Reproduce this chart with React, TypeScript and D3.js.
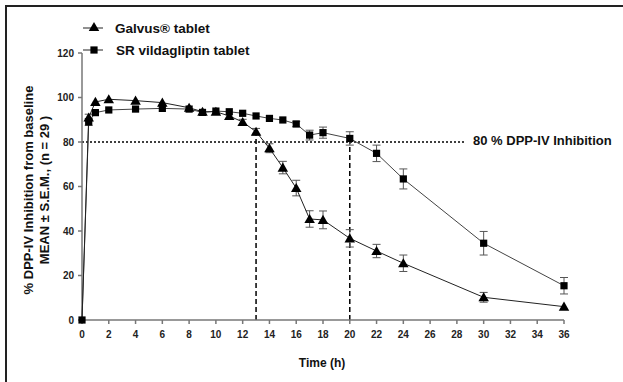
import React from 'react';
import { scaleLinear, line, symbol, symbolTriangle, symbolSquare } from 'd3';

const times = [0, 0.5, 1, 2, 4, 6, 8, 9, 10, 11, 12, 13, 14, 15, 16, 17, 18, 20, 22, 24, 30, 36];
const galvus = [0, 91, 98, 99.2, 98.6, 97.7, 95.4, 93.6, 93.6, 91.7, 89, 84.6, 77.2, 68.5, 59.3, 45.4, 45, 36.7, 31, 25.5, 10.2, 6];
const galvusSem = [0, 1.5, 1, 0.8, 0.8, 0.8, 0.8, 0.8, 0.8, 1, 1.2, 1.5, 2, 2.8, 3.5, 3.7, 4, 3.9, 3, 3.7, 2.2, 1];
const sr = [0, 89, 93.2, 94.4, 94.8, 95.1, 94.8, 93.3, 93.9, 93.6, 92.9, 91.7, 90.6, 89.9, 88.1, 83.1, 84.2, 81.6, 74.9, 63.4, 34.5, 15.4];
const srSem = [0, 1.5, 1, 0.8, 0.8, 0.8, 0.8, 0.8, 1, 1, 1, 1, 1, 1, 1.2, 2.2, 2.5, 3, 3.7, 4.5, 5.3, 3.7];
const xTicks = [0, 2, 4, 6, 8, 10, 12, 14, 16, 18, 20, 22, 24, 26, 28, 30, 32, 34, 36];
const yTicks = [0, 20, 40, 60, 80, 100, 120];
const threshold = 80;
const crossTimes = [13, 20];

const W = 623;
const H = 382;
const font = 'Arial, "Liberation Sans", sans-serif';

export default function App() {
  const x = scaleLinear().domain([0, 36]).range([82, 564]);
  const y = scaleLinear().domain([0, 120]).range([320, 53]);

  const pathOf = (vals: number[]) =>
    line<number>()
      .x((_, i) => x(times[i]))
      .y((d) => y(d))(vals) || '';

  const tri = symbol().type(symbolTriangle).size(48)() || '';
  const sq = symbol().type(symbolSquare).size(52)() || '';

  const errorBars = (vals: number[], sem: number[], key: string) =>
    vals.map((v, i) => {
      if (sem[i] < 1.2) return null;
      const cx = x(times[i]);
      const y1 = y(v + sem[i]);
      const y2 = y(v - sem[i]);
      return (
        <g key={key + i} stroke="#555" strokeWidth={1}>
          <line x1={cx} x2={cx} y1={y1} y2={y2} />
          <line x1={cx - 4} x2={cx + 4} y1={y1} y2={y1} />
          <line x1={cx - 4} x2={cx + 4} y1={y2} y2={y2} />
        </g>
      );
    });

  const crossVal = (t: number) => {
    const i = times.indexOf(t);
    return t === 13 ? galvus[i] : sr[i];
  };

  return (
    <svg width={W} height={H} style={{ position: 'absolute', left: 0, top: 0, background: '#fff' }} fontFamily={font}>
      {/* frame */}
      <line x1={5} x2={W} y1={6} y2={6} stroke="#222" strokeWidth={2} />
      <line x1={6} x2={6} y1={5} y2={H} stroke="#222" strokeWidth={2} />

      {/* reference lines */}
      <line x1={x(0)} x2={465} y1={y(threshold)} y2={y(threshold)} stroke="#000" strokeWidth={1.5} strokeDasharray="2,2" />
      {crossTimes.map((t) => (
        <line key={t} x1={x(t)} x2={x(t)} y1={y(0)} y2={y(crossVal(t))} stroke="#000" strokeWidth={1.5} strokeDasharray="5,3" />
      ))}
      <text x={473} y={145} fontSize={13} fontWeight="bold" fill="#111">80 % DPP-IV Inhibition</text>

      {/* axes */}
      <g stroke="#777" strokeWidth={1.5}>
        <line x1={x(0)} x2={x(0)} y1={y(120)} y2={y(0)} />
        <line x1={x(0)} x2={x(36)} y1={y(0)} y2={y(0)} />
        {yTicks.map((t) => (
          <line key={'yt' + t} x1={x(0) - 4} x2={x(0)} y1={y(t)} y2={y(t)} />
        ))}
        {xTicks.map((t) => (
          <line key={'xt' + t} x1={x(t)} x2={x(t)} y1={y(0)} y2={y(0) + 4} />
        ))}
      </g>
      <g fontSize={10} fontWeight="bold" fill="#222">
        {yTicks.map((t) => (
          <text key={'yl' + t} x={x(0) - 8} y={y(t) + 3.5} textAnchor="end">{t}</text>
        ))}
        {xTicks.map((t) => (
          <text key={'xl' + t} x={x(t)} y={338} textAnchor="middle">{t}</text>
        ))}
      </g>
      <text x={322} y={367} fontSize={12} fontWeight="bold" textAnchor="middle" fill="#111">Time (h)</text>
      <g fontSize={13} fontWeight="bold" fill="#111" textAnchor="middle">
        <text transform="translate(33,190) rotate(-90)">% DPP-IV Inhibition from baseline</text>
        <text transform="translate(49,190) rotate(-90)">MEAN ± S.E.M., (n = 29 )</text>
      </g>

      {/* series */}
      {errorBars(galvus, galvusSem, 'g')}
      {errorBars(sr, srSem, 's')}
      <path d={pathOf(sr)} fill="none" stroke="#444" strokeWidth={1} />
      <path d={pathOf(galvus)} fill="none" stroke="#222" strokeWidth={1} />
      {sr.map((v, i) => (
        <path key={'sq' + i} d={sq} transform={`translate(${x(times[i])},${y(v)})`} fill="#000" />
      ))}
      {galvus.map((v, i) =>
        i === 0 ? null : (
          <path key={'tr' + i} d={tri} transform={`translate(${x(times[i])},${y(v) + 1})`} fill="#000" />
        )
      )}

      {/* legend */}
      <line x1={83} x2={103} y1={28} y2={28} stroke="#222" strokeWidth={1} />
      <path d={tri} transform="translate(94,28)" fill="#000" />
      <text x={115} y={33} fontSize={13.5} fontWeight="bold" fill="#111">Galvus® tablet</text>
      <line x1={83} x2={103} y1={50} y2={50} stroke="#222" strokeWidth={1} />
      <path d={sq} transform="translate(94,50)" fill="#000" />
      <text x={116} y={55} fontSize={13.5} fontWeight="bold" fill="#111">SR vildagliptin tablet</text>
    </svg>
  );
}
